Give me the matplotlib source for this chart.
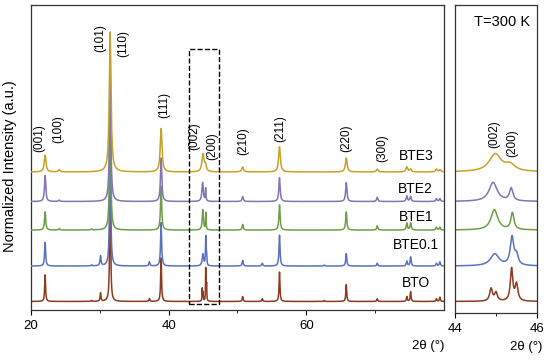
import numpy as np
import matplotlib.pyplot as plt
from matplotlib.patches import Rectangle
from matplotlib.ticker import FixedLocator

plt.rcParams["font.family"] = ["Liberation Sans", "DejaVu Sans"]
plt.rcParams["axes.edgecolor"] = "#333333"
plt.rcParams["axes.linewidth"] = 0.9

samples = ["BTO", "BTE0.1", "BTE1", "BTE2", "BTE3"]
colors = ["#8C3B1F", "#5A72C0", "#6E9E48", "#8473B5", "#C4A22A"]
offsets = [0.061, 0.314, 0.571, 0.775, 0.986]  # stacking shift, in units of I(101)
fwhm = [0.15, 0.18, 0.20, 0.22, 0.30]  # peak width, deg 2theta

# reflections shared by all samples (2theta, deg)
peak_pos = [22.05, 24.1, 28.8, 30.1, 31.5, 37.2, 38.9, 50.75, 53.6, 56.1,
            62.6, 65.8, 70.3, 74.6, 75.15, 78.9, 79.4]
# relative intensity, % of the (101)/(110) line
peak_int = [
    [19, 0, 0.7, 6, 100, 2, 31, 3.5, 2, 21, 0.7, 12, 2, 3.5, 7, 2, 3],      # BTO
    [17, 0, 0.7, 7, 100, 3, 31, 4, 2, 22, 0.7, 9, 2, 3.5, 6.5, 2, 3],       # BTE0.1
    [13, 1, 0.7, 0, 100, 0, 31, 4, 0, 18, 0, 13, 3, 5, 5, 2, 2],            # BTE1
    [18.5, 1, 0, 0, 100, 0, 31, 3.5, 0, 17, 0, 13.5, 3, 4, 3.5, 2, 2],      # BTE2
    [12, 1.5, 0, 0, 100, 0, 31, 3.5, 0, 18, 0, 10, 2, 3.5, 2, 2, 1.5],      # BTE3
]

# (002)/(200) splitting around 45 deg
split_pos = [
    [44.88, 45.0, 45.38, 45.5],
    [44.97, 45.39, 45.5],
    [44.96, 45.4],
    [44.93, 45.37],
    [44.98, 45.34],
]
split_int = [
    [9, 6, 23, 12],
    [8.5, 20, 7],
    [14.5, 12],
    [13.5, 9],
    [12.5, 4.5],
]
split_fwhm = [
    [0.08, 0.08, 0.07, 0.08],
    [0.25, 0.1, 0.1],
    [0.2, 0.09],
    [0.24, 0.1],
    [0.35, 0.3],
]

hkl = ["(001)", "(100)", "(101)", "(110)", "(111)", "(002)", "(200)",
       "(210)", "(211)", "(220)", "(300)"]
hkl_x = [21.2, 23.9, 30.0, 33.4, 39.3, 43.7, 46.3, 50.9, 56.2, 65.8, 71.0]
hkl_y = [1.13, 1.19, 1.84, 1.81, 1.37, 1.14, 1.07, 1.11, 1.20, 1.13, 1.06]
label_y = [0.193, 0.464, 0.664, 0.864, 1.10]


def lorentz(x, pos, height, width):
    return height / (1 + ((x - pos) / (width / 2)) ** 2)


def pattern(x, i):
    y = np.zeros_like(x)
    for p, h in zip(peak_pos, peak_int[i]):
        y += lorentz(x, p, h, fwhm[i])
    for p, h, w in zip(split_pos[i], split_int[i], split_fwhm[i]):
        y += lorentz(x, p, h, w)
    return y / 100 + offsets[i]


two_theta = np.arange(20, 80.001, 0.005)
draw_order = [0, 2, 3, 4, 1]

fig = plt.figure(figsize=(5.5, 3.61), dpi=100)
ax = fig.add_axes([31 / 550, 1 - 310 / 361, 413 / 550, 305 / 361])
ax2 = fig.add_axes([455 / 550, 1 - 313 / 361, 82 / 550, 308 / 361])

for i in draw_order:
    y = pattern(two_theta, i)
    ax.plot(two_theta, y, color=colors[i], lw=1.1, zorder=2 + i)
    ax2.plot(two_theta, y, color=colors[i], lw=1.1)
    ax.text(75.9, label_y[i], samples[i], fontsize=10, ha="center", va="center")

for t, x, y in zip(hkl, hkl_x, hkl_y):
    ax.text(x, y, t, rotation=90, fontsize=8.5, ha="center", va="bottom")

ax.add_patch(Rectangle((42.95, 0.04), 4.35, 1.825, fill=False, ls="--", lw=1.0,
                       ec="black", zorder=10))

ax.set_xlim(20, 80)
ax.set_ylim(0, 305 / 140)
ax.set_xticks([20, 40, 60])
ax.xaxis.set_minor_locator(FixedLocator([30, 50, 70]))
ax.set_yticks([])
ax.tick_params(axis="x", which="major", direction="out", length=3.5, labelsize=9.5, pad=4)
ax.tick_params(axis="x", which="minor", direction="out", length=2)
ax.set_ylabel("Normalized Intensity (a.u.)", fontsize=10.5)
ax.yaxis.set_label_coords(-0.033, 0.472)
ax.set_xlabel("2θ (°)", fontsize=9.5, loc="right")
ax.xaxis.set_label_coords(1.0, -0.10)

ax2.set_xlim(44, 46)
ax2.set_ylim(-3 / 140, 305 / 140)
ax2.set_xticks([44, 46])
ax2.xaxis.set_minor_locator(FixedLocator([45]))
ax2.set_yticks([])
ax2.tick_params(axis="x", which="major", direction="out", length=3.5, labelsize=9.5, pad=4)
ax2.tick_params(axis="x", which="minor", direction="out", length=2)
ax2.set_xlabel("2θ (°)", fontsize=9.5, loc="right")
ax2.xaxis.set_label_coords(1.07, -0.091)
ax2.text(45.83, 2.06, "T=300 K", fontsize=10.5, ha="right", va="center")
ax2.text(44.95, 1.16, "(002)", rotation=90, fontsize=8.5, ha="center", va="bottom")
ax2.text(45.39, 1.09, "(200)", rotation=90, fontsize=8.5, ha="center", va="bottom")

fig.savefig("out.png", dpi=100)
